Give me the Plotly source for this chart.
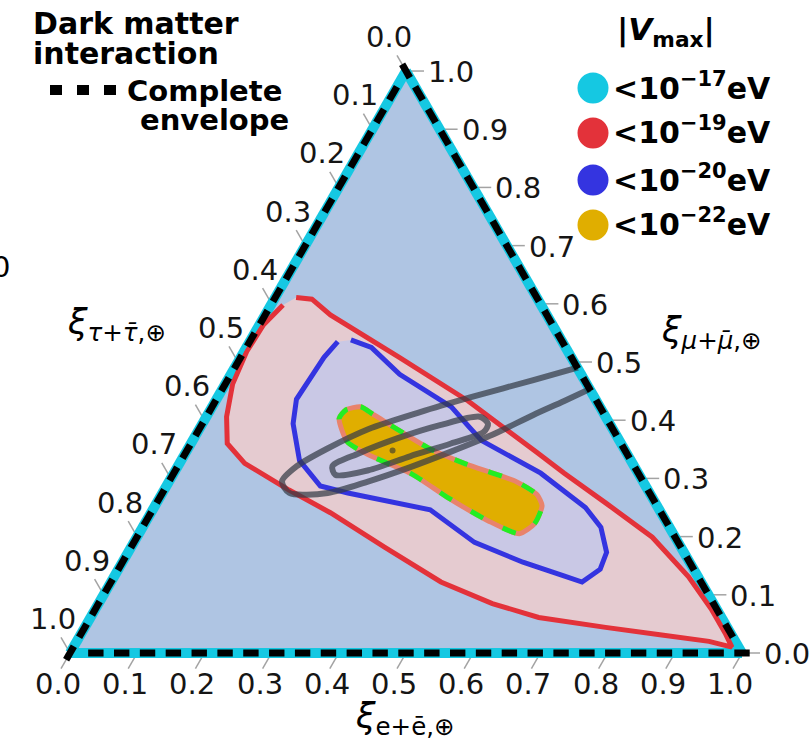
import math
import plotly.graph_objects as go

# Ternary components: mu -> top vertex (a), tau -> bottom-left (b), e -> bottom-right (c)
tick_values = [0.0, 0.1, 0.2, 0.3, 0.4, 0.5, 0.6, 0.7, 0.8, 0.9, 1.0]
tick_labels = ["0.0", "0.1", "0.2", "0.3", "0.4", "0.5", "0.6", "0.7", "0.8", "0.9", "1.0"]

# |V_max| < 1e-19 eV region
red_mu = [0.611, 0.608, 0.581, 0.508, 0.433, 0.345, 0.309, 0.258, 0.199, 0.131, 0.076, 0.034, 0.010,
          0.020, 0.031, 0.044, 0.061, 0.085, 0.122, 0.182, 0.241, 0.280, 0.326, 0.360, 0.406, 0.462,
          0.518, 0.564, 0.598]
red_tau = [0.358, 0.336, 0.322, 0.256, 0.191, 0.133, 0.110, 0.074, 0.034, 0.014, 0.008, 0.008, 0.010,
           0.039, 0.104, 0.181, 0.272, 0.329, 0.387, 0.441, 0.492, 0.534, 0.577, 0.586, 0.564, 0.527,
           0.478, 0.430, 0.384]
red_e = [0.031, 0.056, 0.097, 0.236, 0.376, 0.522, 0.581, 0.668, 0.767, 0.855, 0.916, 0.958, 0.980,
         0.941, 0.865, 0.775, 0.667, 0.586, 0.491, 0.377, 0.267, 0.186, 0.097, 0.054, 0.030, 0.011,
         0.004, 0.006, 0.018]

# |V_max| < 1e-20 eV region
blue_mu = [0.538, 0.525, 0.479, 0.423, 0.389, 0.365, 0.309, 0.250, 0.216, 0.173, 0.144, 0.122,
           0.132, 0.156, 0.190, 0.246, 0.275, 0.287, 0.331, 0.394, 0.436, 0.508, 0.535]
blue_tau = [0.313, 0.289, 0.270, 0.221, 0.212, 0.205, 0.145, 0.108, 0.102, 0.115, 0.139, 0.177,
            0.198, 0.248, 0.303, 0.341, 0.449, 0.484, 0.493, 0.471, 0.445, 0.368, 0.334]
blue_e = [0.149, 0.186, 0.251, 0.356, 0.399, 0.430, 0.546, 0.642, 0.682, 0.712, 0.717, 0.701,
          0.670, 0.596, 0.507, 0.413, 0.276, 0.229, 0.176, 0.135, 0.119, 0.124, 0.131]

# |V_max| < 1e-22 eV region
gold_mu = [0.418, 0.423, 0.409, 0.350, 0.325, 0.294, 0.272, 0.253, 0.222, 0.205, 0.227, 0.268,
           0.307, 0.341, 0.363, 0.403]
gold_tau = [0.380, 0.356, 0.343, 0.288, 0.249, 0.188, 0.169, 0.171, 0.198, 0.229, 0.264, 0.305,
            0.337, 0.386, 0.406, 0.398]
gold_e = [0.202, 0.221, 0.248, 0.362, 0.426, 0.518, 0.559, 0.576, 0.580, 0.566, 0.509, 0.427,
          0.356, 0.273, 0.231, 0.199]

# Flavour-ratio confidence contours (outer one leaves through the mu-e edge)
outer_mu = [0.499, 0.469, 0.440, 0.414, 0.385, 0.351, 0.321, 0.295, 0.275, 0.275, 0.295, 0.319,
            0.346, 0.375, 0.409, 0.433, 0.462]
outer_tau = [-0.031, 0.076, 0.182, 0.272, 0.363, 0.442, 0.502, 0.537, 0.536, 0.479, 0.408, 0.335,
             0.260, 0.184, 0.106, 0.048, -0.020]
outer_e = [0.532, 0.455, 0.378, 0.314, 0.252, 0.207, 0.177, 0.168, 0.189, 0.246, 0.297, 0.346,
           0.394, 0.441, 0.485, 0.519, 0.558]

inner_mu = [0.406, 0.392, 0.370, 0.343, 0.321, 0.306, 0.314, 0.338, 0.360, 0.380, 0.394, 0.406]
inner_tau = [0.187, 0.252, 0.325, 0.399, 0.449, 0.452, 0.399, 0.325, 0.253, 0.194, 0.181, 0.187]
inner_e = [0.407, 0.356, 0.305, 0.258, 0.230, 0.242, 0.287, 0.337, 0.387, 0.426, 0.425, 0.407]

best_mu = [0.348]
best_tau = [0.346]
best_e = [0.306]

legend_labels = ["&lt;10<sup>\u221217</sup>eV", "&lt;10<sup>\u221219</sup>eV",
                 "&lt;10<sup>\u221220</sup>eV", "&lt;10<sup>\u221222</sup>eV"]
legend_colors = ["#15C8E2", "#E3323A", "#3434E0", "#E0AE00"]

FONT = "DejaVu Sans"
CYAN, RED, BLUE, GOLD = legend_colors
W, H = 810, 745

# triangle geometry in page pixels
SIDE = 672
LEFT_X = 70
BASE_Y = 653
TRI_H = SIDE * math.sqrt(3) / 2


def px(x):
    return x / W


def py(y):
    return 1 - y / H


def tern_px(mu, tau, e):
    """Page position of a ternary point inside the drawn triangle."""
    return LEFT_X + e * SIDE + mu * SIDE / 2, BASE_Y - mu * TRI_H


fig = go.Figure()

# filled regions
fig.add_trace(go.Scatterternary(a=red_mu, b=red_tau, c=red_e, mode="lines", fill="toself",
                                fillcolor="#E5CBD0", line=dict(color=RED, width=5),
                                hoverinfo="skip"))
fig.add_trace(go.Scatterternary(a=blue_mu, b=blue_tau, c=blue_e, mode="lines", fill="toself",
                                fillcolor="#C9C8E5", line=dict(color=BLUE, width=5),
                                hoverinfo="skip"))
gold_loop = dict(a=gold_mu + gold_mu[:1], b=gold_tau + gold_tau[:1], c=gold_e + gold_e[:1])
fig.add_trace(go.Scatterternary(**gold_loop, mode="lines", fill="toself", fillcolor=GOLD,
                                line=dict(color="#E9836C", width=5, shape="spline", smoothing=0.6),
                                hoverinfo="skip"))
fig.add_trace(go.Scatterternary(**gold_loop, mode="lines",
                                line=dict(color="#22EE22", width=5, dash="14px,22px",
                                          shape="spline", smoothing=0.6),
                                hoverinfo="skip"))

# confidence contours
GRAY = "rgba(52,60,70,0.72)"
fig.add_trace(go.Scatterternary(a=outer_mu, b=outer_tau, c=outer_e, mode="lines",
                                line=dict(color=GRAY, width=6, shape="spline", smoothing=0.8),
                                hoverinfo="skip"))
fig.add_trace(go.Scatterternary(a=inner_mu, b=inner_tau, c=inner_e, mode="lines",
                                line=dict(color=GRAY, width=6, shape="spline", smoothing=0.8),
                                hoverinfo="skip"))
fig.add_trace(go.Scatterternary(a=best_mu, b=best_tau, c=best_e, mode="markers",
                                marker=dict(color="rgba(90,80,40,0.8)", size=6),
                                hoverinfo="skip"))

# dashed envelope drawn on the triangle edges (one dash per corner)
n_dash = 26
steps = [k / n_dash for k in range(n_dash)]
env_a = [0.0] * n_dash + steps + [1 - s for s in steps]
env_b = [s for s in steps] + [1 - s for s in steps] + [0.0] * n_dash
env_c = [1 - s for s in steps] + [0.0] * n_dash + steps
env_ang = [0] * n_dash + [-60] * n_dash + [60] * n_dash
fig.add_trace(go.Scatterternary(a=env_a, b=env_b, c=env_c, mode="markers", cliponaxis=False,
                                marker=dict(symbol="line-ew", size=11, angle=env_ang, color="black",
                                            line=dict(color="black", width=7)),
                                hoverinfo="skip"))

axis_style = dict(showticklabels=False, ticks="", showgrid=False, linecolor=CYAN, linewidth=10,
                  layer="below traces", title=dict(text=""), min=0)

annotations = []
shapes = []


def note(text, x, y, size, xanchor="left", yanchor="middle", color="black"):
    annotations.append(dict(text=text, x=px(x), y=py(y), xref="paper", yref="paper",
                            xanchor=xanchor, yanchor=yanchor, showarrow=False,
                            font=dict(family=FONT, size=size, color=color)))


# tick marks and labels on the three edges
TICK_COL = "#A3A3A3"
s3 = math.sqrt(3) / 2
edges = [
    # (edge point from value, outward unit vector, label offset in px)
    (lambda v: tern_px(1 - v, v, 0), (-0.5, -s3), (-17, -34)),   # xi_tau, left edge
    (lambda v: tern_px(0, 1 - v, v), (-0.5, s3), (-12, 31)),     # xi_e, bottom edge
    (lambda v: tern_px(v, 0, 1 - v), (1.0, 0.0), (45, 1)),       # xi_mu, right edge
]
for point, (ux, uy), (dx, dy) in edges:
    for v, lbl in zip(tick_values, tick_labels):
        x0, y0 = point(v)
        shapes.append(dict(type="line", xref="paper", yref="paper",
                           x0=px(x0 + 5 * ux), y0=py(y0 + 5 * uy),
                           x1=px(x0 + 18 * ux), y1=py(y0 + 18 * uy),
                           line=dict(color=TICK_COL, width=1.5), layer="below"))
        note(lbl, x0 + dx, y0 + dy, 29, xanchor="center", color="#151515")

note("<b>Dark matter</b>", 31, 23, 30)
note("<b>interaction</b>", 31, 53, 30)
note("<b>Complete</b>", 125, 91, 29)
note("<b>envelope</b>", 138, 120, 29)
note("<b>|<i>V</i><sub>max</sub>|</b>", 666, 31, 31, xanchor="center")
legend_y = [88, 133, 180, 225]
for lbl, col, yy in zip(legend_labels, legend_colors, legend_y):
    note("<b>" + lbl + "</b>", 611, yy - 2, 30)
    shapes.append(dict(type="circle", xref="paper", yref="paper", xsizemode="pixel",
                       ysizemode="pixel", xanchor=px(593), yanchor=py(yy),
                       x0=-15.5, x1=15.5, y0=-15.5, y1=15.5, fillcolor=col, line=dict(width=0)))
shapes.append(dict(type="line", xref="paper", yref="paper", x0=px(50), x1=px(117),
                   y0=py(90), y1=py(90), line=dict(color="black", width=10, dash="12px,15px")))

note("<i>\u03be</i><sub><i>\u03c4</i>+<i>\u03c4\u0304</i>,\u2295</sub>", 116, 325, 35,
     xanchor="center")
note("<i>\u03be</i><sub><i>\u03bc</i>+<i>\u03bc\u0304</i>,\u2295</sub>", 711, 333, 35,
     xanchor="center")
note("<i>\u03be</i><sub>e+\u0113,\u2295</sub>", 405, 718, 35, xanchor="center")
note("0", 1, 267, 29, xanchor="center")

center_y = BASE_Y - TRI_H / 2
half_dom = (TRI_H + 6) / 2
fig.update_layout(
    width=W, height=H,
    margin=dict(l=0, r=0, t=0, b=0),
    paper_bgcolor="white",
    showlegend=False,
    font=dict(family=FONT),
    ternary=dict(
        sum=1,
        bgcolor="#AFC5E3",
        domain=dict(x=[px(LEFT_X), px(LEFT_X + SIDE)],
                    y=[py(center_y + half_dom), py(center_y - half_dom)]),
        aaxis=axis_style, baxis=axis_style, caxis=axis_style,
    ),
    annotations=annotations,
    shapes=shapes,
)

fig.write_html("out.html")
